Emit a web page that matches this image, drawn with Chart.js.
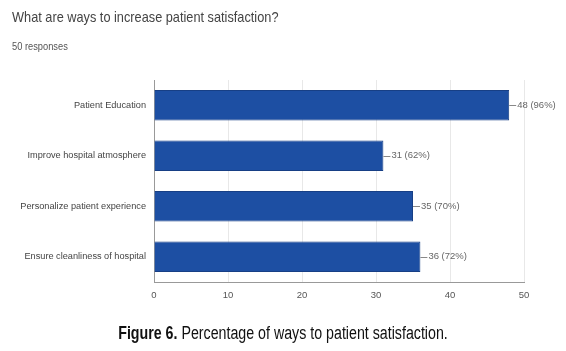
<!DOCTYPE html>
<html>
<head>
<meta charset="utf-8">
<script src="https://cdn.jsdelivr.net/npm/chart.js@4/dist/chart.umd.min.js"></script>
<style>
  body { margin: 0; background: #fff; }
  #wrap { position: relative; width: 566px; height: 351px; }
  .txt { position: absolute; white-space: nowrap; font-family: Arial, "Liberation Sans", sans-serif; }
  #title { left: 12px; top: 8px; font-size: 15px; color: #444; transform: scaleX(0.85); transform-origin: left top; }
  #sub { left: 12px; top: 41px; font-size: 10px; color: #555; transform: scaleX(0.93); transform-origin: left top; }
  #caption { left: 0; width: 566px; top: 323px; text-align: center; font-size: 18px; color: #111; transform: scaleX(0.79); transform-origin: 283px 0; }
</style>
</head>
<body>
<div id="wrap">
  <canvas id="myChart" width="566" height="351"></canvas>
  <div id="title" class="txt">What are ways to increase patient satisfaction?</div>
  <div id="sub" class="txt">50 responses</div>
  <div id="caption" class="txt"><b>Figure 6.</b> Percentage of ways to patient satisfaction.</div>
</div>
<script>
var categories = ['Patient Education', 'Improve hospital atmosphere', 'Personalize patient experience', 'Ensure cleanliness of hospital'];
var counts = [48, 31, 35, 36];
var percents = [96, 62, 70, 72];
var xTicks = [0, 10, 20, 30, 40, 50];

// draws the little leader line and "n (p%)" after each bar
var valueLabels = {
    id: 'valueLabels',
    afterDatasetsDraw: function(chart) {
        var ctx = chart.ctx;
        var meta = chart.getDatasetMeta(0);
        ctx.save();
        ctx.font = '9.5px Arial, sans-serif';
        ctx.fillStyle = '#666';
        ctx.strokeStyle = '#888';
        ctx.lineWidth = 1;
        ctx.textBaseline = 'middle';
        meta.data.forEach(function(bar, i) {
            var x = bar.x, y = Math.round(bar.y) + 0.5;
            ctx.beginPath();
            ctx.moveTo(x, y);
            ctx.lineTo(x + 7, y);
            ctx.stroke();
            ctx.fillText(counts[i] + ' (' + percents[i] + '%)', x + 8, bar.y);
        });
        ctx.restore();
    }
};

var ctx = document.getElementById('myChart').getContext('2d');
var chart = new Chart(ctx, {
    type: 'bar',
    data: {
        labels: categories,
        datasets: [{
            data: counts,
            backgroundColor: '#1d4fa3',
            borderColor: '#173f85',
            borderWidth: 1,
            barPercentage: 0.6,
            categoryPercentage: 1
        }]
    },
    options: {
        indexAxis: 'y',
        responsive: false,
        animation: false,
        layout: { padding: { top: 80, right: 42, bottom: 49, left: 0 } },
        plugins: { legend: { display: false }, tooltip: { enabled: false } },
        scales: {
            x: {
                min: 0, max: 50,
                afterBuildTicks: function(scale) {
                    scale.ticks = xTicks.map(function(v) { return { value: v }; });
                },
                afterFit: function(scale) { scale.height = 20; },
                grid: { color: '#e8e8e8', drawTicks: false },
                border: { color: '#999' },
                ticks: { color: '#555', padding: 8, font: { family: 'Arial, sans-serif', size: 9.5 } }
            },
            y: {
                afterFit: function(scale) { scale.width = 154; },
                grid: { display: false, drawTicks: false },
                border: { color: '#999' },
                ticks: { color: '#444', padding: 8, font: { family: 'Arial, sans-serif', size: 9.2 } }
            }
        }
    },
    plugins: [valueLabels]
});
</script>
</body>
</html>
